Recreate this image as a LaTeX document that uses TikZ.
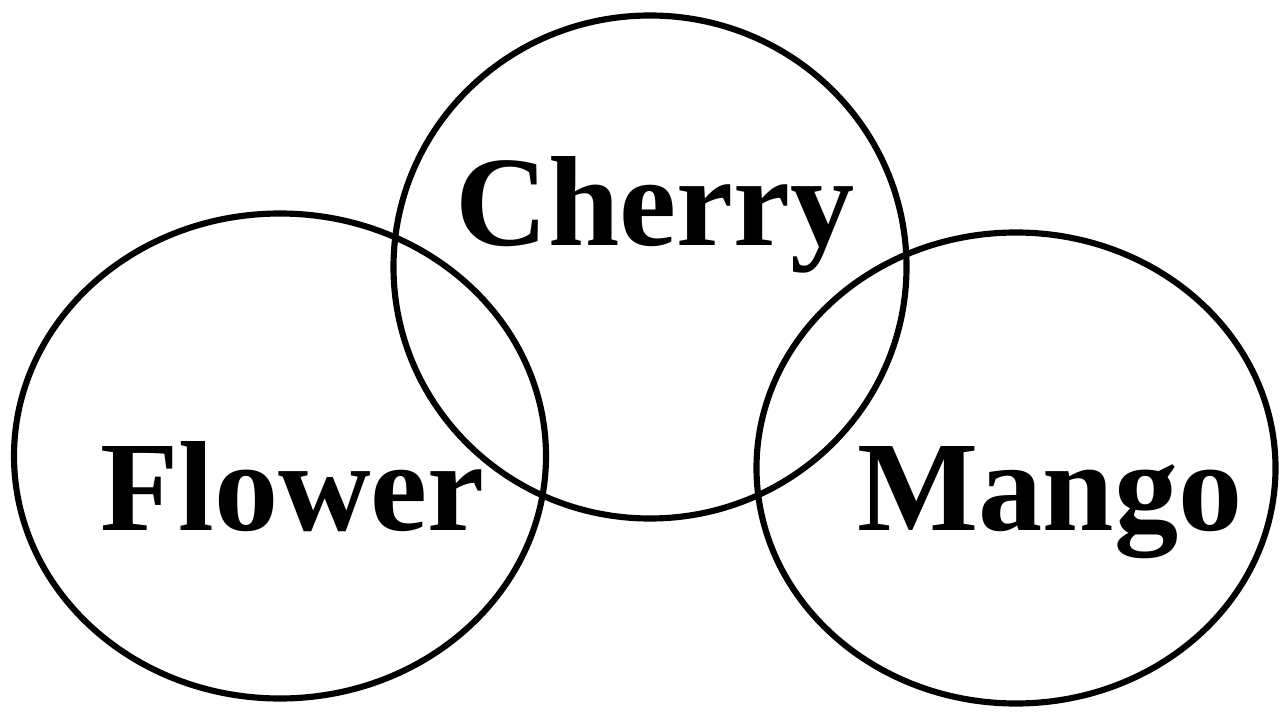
\documentclass[tikz,border=0pt]{standalone}
\usepackage{fontspec}
\setmainfont{Liberation Serif}
\usetikzlibrary{shapes.geometric}

\begin{document}
\begin{tikzpicture}[
    % Stijl voor de ovalen
    set/.style={ellipse, draw=black, line width=3.5pt, inner sep=0pt},
    % Stijl voor de namen
    label/.style={font=\bfseries\fontsize{73}{80}\selectfont, anchor=base, inner sep=0pt}
]
\useasboundingbox (0,0) rectangle (25.6,14.22);

% --- Ovalen ---
\node[set, minimum width=10.64cm, minimum height=9.7cm] (flower) at (5.6,5.1) {};
\node[set, minimum width=10.26cm, minimum height=10.06cm] (cherry) at (13.0,8.88) {};
\node[set, minimum width=10.38cm, minimum height=9.42cm] (mango) at (20.32,4.86) {};

% --- Namen ---
\node[label] (cherrytext) at (13.1,9.32) {Cherry};
\node[label] (flowertext) at (5.85,3.62) {Flower};
\node[label] (mangotext) at (21.0,3.62) {Mango};

\end{tikzpicture}
\end{document}
